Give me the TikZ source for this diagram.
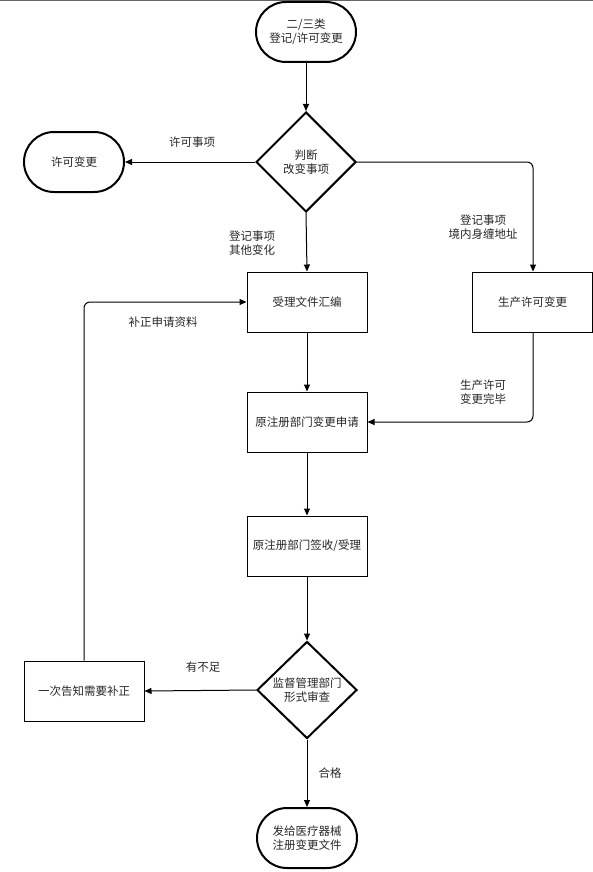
\documentclass[tikz,border=0pt]{standalone}
\usepackage{fontspec}
\setmainfont{Noto Sans CJK SC}
\usetikzlibrary{arrows.meta,shapes.geometric,shapes.misc}
\begin{document}
\begin{tikzpicture}[x=1pt,y=-1pt,
  font=\fontsize{11.5}{14}\selectfont,
  every node/.style={text=black!85},
  term/.style={draw=black, line width=2pt, rounded rectangle, minimum width=100pt, minimum height=60pt, align=center, inner sep=0pt},
  proc/.style={draw=black, line width=1pt, rectangle, minimum width=120pt, minimum height=60pt, align=center, inner sep=0pt},
  dec/.style={draw=black, line width=2pt, diamond, minimum width=100pt, minimum height=100pt, align=center, inner sep=0pt},
  conn/.style={draw=black, line width=1pt, -{Triangle[length=7pt,width=6pt]}, rounded corners=6pt},
  lbl/.style={align=center, inner sep=0pt}
]
\useasboundingbox (0,0) rectangle (593,872);
\fill[black!60] (0,0) rectangle (593,1.5);

\node[term] (start) at (306,32) {二/三类\\登记/许可变更};
\node[dec] (judge) at (306,162) {判断\\改变事项};
\node[term] (lic) at (74,162) {许可变更};
\node[proc] (prod) at (532.5,302) {生产许可变更};
\node[proc] (compile) at (307,302) {受理文件汇编};
\node[proc] (apply) at (307,422) {原注册部门变更申请};
\node[proc] (sign) at (307,546) {原注册部门签收/受理};
\node[dec, minimum height=97pt] (review) at (307,690) {监督管理部门\\形式审查};
\node[proc] (notify) at (84,691) {一次告知需要补正};
\node[term] (issue) at (307,838) {发给医疗器械\\注册变更文件};

\coordinate (c1) at (533,162);
\coordinate (c2) at (533,422);
\coordinate (c3) at (84,302);

\draw[conn] (start) -- (judge);
\draw[conn] (judge.west) -- (lic.east);
\draw[conn] (judge.east) -- (c1) -- (prod.north -| c1);
\draw[conn] (judge.south) -- (compile.north);
\draw[conn] (compile) -- (apply);
\draw[conn] (prod.south -| c1) -- (c2) -- (apply.east);
\draw[conn] (apply) -- (sign);
\draw[conn] (sign) -- (review.north);
\draw[conn] (review.west) -- (notify.east);
\draw[conn] (notify.north) -- (c3) -- (compile.west);
\draw[conn] (review.south) -- (issue.north);

\node[lbl] (l1) at (192,142) {许可事项};
\node[lbl] (l2) at (252,243) {登记事项\\其他变化};
\node[lbl] (l3) at (483,227) {登记事项\\境内身缠地址};
\node[lbl] (l4) at (483,392) {生产许可\\变更完毕};
\node[lbl] (l5) at (163,322) {补正申请资料};
\node[lbl] (l6) at (203,667) {有不足};
\node[lbl] (l7) at (330,773) {合格};
\end{tikzpicture}
\end{document}
